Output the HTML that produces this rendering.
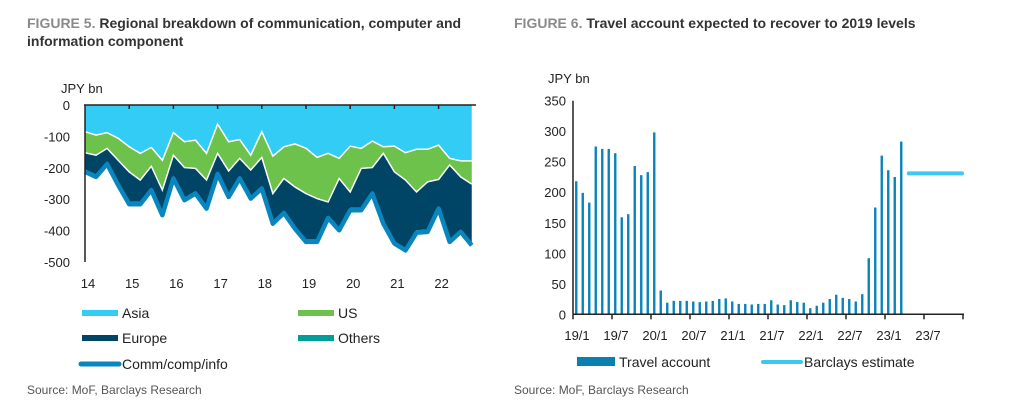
<!DOCTYPE html>
<html><head><meta charset="utf-8"><style>
body{margin:0;background:#fff;width:1024px;height:411px;overflow:hidden;font-family:"Liberation Sans",sans-serif;}
.t{position:absolute;font-size:14px;font-weight:bold;color:#333;line-height:18px;}
.t span{color:#8a8a8a;}
.src{position:absolute;font-size:12px;color:#555;}
svg{position:absolute;left:0;top:0;}
svg text{font-family:"Liberation Sans",sans-serif;fill:#222;}
</style></head><body>
<div class="t" style="left:27px;top:14px;width:460px;"><span>FIGURE 5.</span> Regional breakdown of communication, computer and information component</div>
<div class="t" style="left:514px;top:14px;"><span>FIGURE 6.</span> Travel account expected to recover to 2019 levels</div>
<div class="src" style="left:27px;top:383px;">Source: MoF, Barclays Research</div>
<div class="src" style="left:514px;top:383px;">Source: MoF, Barclays Research</div>
<svg id="s" width="1024" height="411"></svg>
<script>
// Figure 5 data (JPY bn, quarterly 14Q1..22Q4), cumulative boundaries
const years5 = ["14","15","16","17","18","19","20","21","22"];
const yTicks5 = [0,-100,-200,-300,-400,-500];
const asiaEdge = [-85,-96,-88,-106,-133,-154,-135,-176,-88,-117,-112,-154,-61,-117,-110,-160,-85,-163,-133,-124,-138,-167,-154,-170,-131,-138,-115,-133,-131,-152,-141,-141,-128,-170,-178,-178];
const usEdge = [-152,-160,-138,-176,-213,-239,-195,-271,-160,-199,-202,-239,-154,-210,-170,-207,-167,-282,-234,-261,-282,-298,-309,-234,-277,-202,-199,-154,-213,-239,-277,-245,-237,-191,-229,-252];
const total5 = [-213,-229,-188,-255,-316,-316,-271,-351,-234,-303,-282,-330,-220,-293,-234,-298,-266,-378,-344,-394,-436,-436,-360,-399,-335,-335,-282,-378,-441,-463,-407,-404,-330,-436,-404,-447];
const others5 = -8;
// Figure 6 data (monthly 19/1..23/3)
const travel = [218,199,183,275,271,271,264,159,164,243,228,233,298,39,19,22,22,22,21,20,21,22,25,26,21,17,17,16,17,17,23,16,15,23,20,19,10,14,19,25,32,27,25,21,33,92,175,260,236,225,283];
const estimate = 231;
const xLabels6 = ["19/1","19/7","20/1","20/7","21/1","21/7","22/1","22/7","23/1","23/7"];
const yTicks6 = [0,50,100,150,200,250,300,350];

const s=document.getElementById('s');const NS='http://www.w3.org/2000/svg';
function mk(t,a,txt){const e=document.createElementNS(NS,t);for(const k in a)e.setAttribute(k,a[k]);if(txt!==undefined)e.textContent=txt;s.appendChild(e);return e;}
// axes fig5
const x5=i=>85+i*11.05, y5=v=>105-v*0.314;
function area(top,bot,col,name){let d='M'+top.map((v,i)=>x5(i)+','+y5(v)).join('L');for(let i=bot.length-1;i>=0;i--)d+='L'+x5(i)+','+y5(bot[i]);const e=mk('path',{d:d+'Z',fill:col});

}
const zero=asiaEdge.map(()=>0);
const euroEdge=total5.map(v=>v-others5);
area(zero,asiaEdge,'#33ccf5','asia-area');
area(asiaEdge,usEdge,'#6cc24a','us-area');
area(usEdge,euroEdge,'#004466','europe-area');
area(euroEdge,total5,'#009e9a','others-area');
let pl=mk('polyline',{points:asiaEdge.map((v,i)=>x5(i)+','+y5(v)).join(' '),fill:'none',stroke:'#fff','stroke-width':1.5});


pl=mk('polyline',{points:usEdge.map((v,i)=>x5(i)+','+y5(v)).join(' '),fill:'none',stroke:'#fff','stroke-width':1.5});


pl=mk('polyline',{points:total5.map((v,i)=>x5(i)+','+y5(v)).join(' '),fill:'none',stroke:'#0a86bf','stroke-width':4.5,'stroke-linejoin':'round'});


let ax=mk('line',{x1:84,y1:y5(0),x2:476,y2:y5(0),stroke:'#222','stroke-width':1.5});


ax=mk('line',{x1:85,y1:y5(0),x2:85,y2:y5(-500),stroke:'#222','stroke-width':1.5});


years5.forEach((l,k)=>{const x=x5(k*4);
 if(k>0){const t=mk('line',{x1:x,y1:y5(0),x2:x,y2:y5(0)+4,stroke:'#222','stroke-width':1.5});}
 const e=mk('text',{x:x+3,y:288,'font-size':13,'text-anchor':'middle'},l);
 
 });
yTicks5.forEach(v=>{const e=mk('text',{x:70,y:y5(v)+5,'font-size':13,'text-anchor':'end'},v);
 
 });
let u=mk('text',{x:61,y:93,'font-size':13},'JPY bn');


// legend fig5
[['Asia','#33ccf5',82,313],['US','#6cc24a',298,313],['Europe','#004466',82,338],['Others','#009e9a',298,338]].forEach(([n,c,x,y])=>{
 const r=mk('rect',{x:x,y:y-3,width:36,height:6,fill:c});
 
 
 const t=mk('text',{x:x+40,y:y+5,'font-size':14},n);
 
 });
let lg=mk('line',{x1:81,y1:364,x2:119,y2:364,stroke:'#0a86bf','stroke-width':5,'stroke-linecap':'round'});


lg=mk('text',{x:122,y:369,'font-size':14},'Comm/comp/info');



// fig6
const x6=i=>573+(i+0.5)*6.5, y6=v=>314.3-v*0.6103;
travel.forEach((v,i)=>{const r=mk('rect',{x:x6(i)-1.2,y:y6(v),width:2.4,height:y6(0)-y6(v),fill:'#0a84b8'});
 
 });
let el=mk('line',{x1:x6(travel.length)+1,y1:y6(estimate),x2:962,y2:y6(estimate),stroke:'#3cc8f0','stroke-width':4,'stroke-linecap':'round'});


ax=mk('line',{x1:573,y1:y6(0),x2:964,y2:y6(0),stroke:'#222','stroke-width':1.5});


ax=mk('line',{x1:573,y1:y6(0),x2:573,y2:y6(350),stroke:'#222','stroke-width':1.5});


for(let k=0;k<=10;k++){const x=573+k*39;const t=mk('line',{x1:x,y1:y6(0),x2:x,y2:y6(0)+5,stroke:'#222','stroke-width':1.5});
 
 }
xLabels6.forEach((l,k)=>{const e=mk('text',{x:577+k*39,y:340,'font-size':13,'text-anchor':'middle'},l);
 
 });
yTicks6.forEach(v=>{const e=mk('text',{x:566,y:y6(v)+5,'font-size':13,'text-anchor':'end'},v);
 
 });
u=mk('text',{x:548,y:83,'font-size':13},'JPY bn');


lg=mk('rect',{x:577,y:357,width:38,height:9,fill:'#0a7fb0'});


lg=mk('text',{x:619,y:367,'font-size':14},'Travel account');


lg=mk('line',{x1:763,y1:362,x2:801,y2:362,stroke:'#3cc8f0','stroke-width':4,'stroke-linecap':'round'});


lg=mk('text',{x:804,y:367,'font-size':14},'Barclays estimate');


</script>
</body></html>
